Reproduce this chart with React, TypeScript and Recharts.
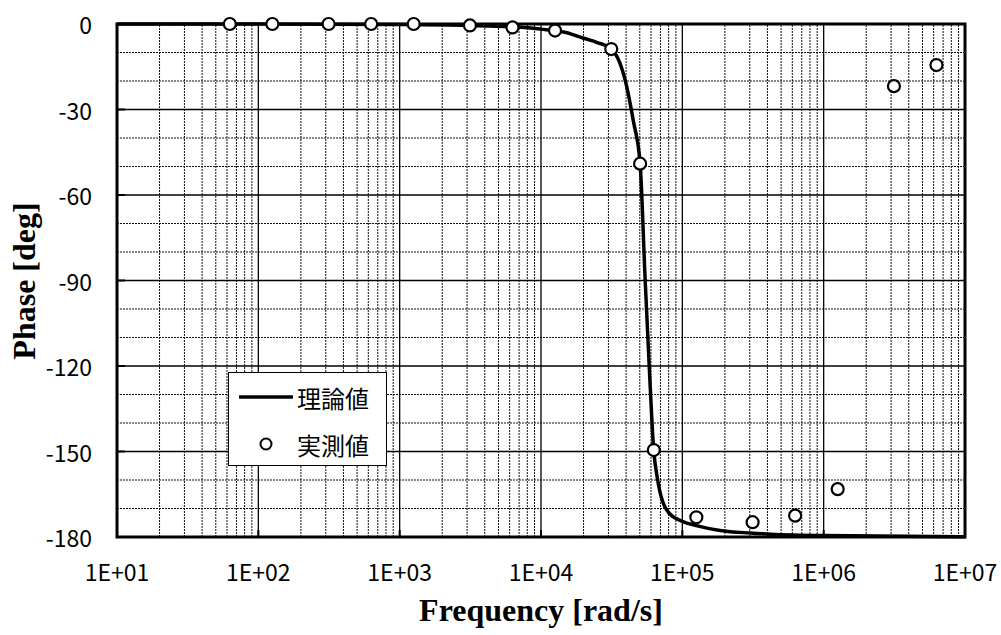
import React from 'react';
import {
  ComposedChart,
  Line,
  Scatter,
  XAxis,
  YAxis,
  ReferenceLine,
  ReferenceArea,
  Legend,
} from 'recharts';

// theoretical curve
const theoryFreq = [
  10, 100, 1000, 3000, 6283, 10000, 15000, 20000, 25000, 31416, 36000, 40000,
  45000, 50265, 54600, 58300, 62832, 66400, 69700, 73100, 82000, 100000,
  125664, 185000, 300000, 420000, 1000000, 10000000,
];
const theoryPhase = [
  0, -0.02, -0.2, -0.5, -1.0, -1.8, -3.0, -5.0, -6.5, -8.8, -13.5, -21, -34,
  -49, -90, -120, -150, -159, -164.5, -168, -172, -174.5, -176, -177.7,
  -178.6, -179, -179.5, -179.9,
];

// measured points
const measFreq = [
  62.8, 125.7, 314.2, 628.3, 1256.6, 3141.6, 6283.2, 12566, 31416, 50265,
  62832, 125664, 314159, 628319, 1256637, 3141593, 6283185,
];
const measPhase = [
  0, 0, 0, 0, 0, -0.5, -1.2, -2.3, -8.8, -49, -149.5, -173.1, -174.8, -172.5,
  -163.2, -21.8, -14.4,
];

const seriesNames = ['理論値', '実測値'];

const xTicks = [10, 100, 1000, 10000, 100000, 1000000, 10000000];
const yTicks = [-180, -150, -120, -90, -60, -30, 0];
const yMinor = [-170, -160, -140, -130, -110, -100, -80, -70, -50, -40, -20, -10];
const minorSteps = [2, 3, 4, 5, 6, 7, 8, 9];

const xMinor = xTicks.slice(0, -1).flatMap((d) => minorSteps.map((m) => d * m));
const xMajorInner = xTicks.slice(1, -1);
const yMajorInner = yTicks.slice(1, -1);

const theoryData = theoryFreq.map((f, i) => ({ f, phase: theoryPhase[i] }));
const measData = measFreq.map((f, i) => ({ f, phase: measPhase[i] }));

const tickFont = '"Noto Sans CJK JP", "Noto Sans", sans-serif';
const titleFont = '"Liberation Serif", "Times New Roman", serif';

function fmtExp(v: number) {
  const e = Math.round(Math.log10(v));
  return `1E+${String(e).padStart(2, '0')}`;
}

function XTick(props: any) {
  const { x, y, payload } = props;
  return (
    <g>
      <line x1={x} x2={x} y1={y} y2={y - 7} stroke="#000" strokeWidth={2} />
      <text
        x={x}
        y={y + 44}
        textAnchor="middle"
        fontSize={23}
        fontFamily={tickFont}
        fill="#000"
      >
        {fmtExp(payload.value)}
      </text>
    </g>
  );
}

function YTick(props: any) {
  const { x, y, payload } = props;
  return (
    <g>
      <line x1={x} x2={x + 8} y1={y} y2={y} stroke="#000" strokeWidth={2} />
      <text
        x={x - 25}
        y={y}
        textAnchor="end"
        dominantBaseline="central"
        fontSize={23}
        fontFamily={tickFont}
        fill="#000"
      >
        {payload.value}
      </text>
    </g>
  );
}

function Circle(props: any) {
  const { cx, cy } = props;
  if (cx == null || cy == null) return null;
  return <circle cx={cx} cy={cy} r={6} fill="#fff" stroke="#000" strokeWidth={2.2} />;
}

function LegendBox() {
  return (
    <div
      style={{
        width: 159,
        height: 94,
        boxSizing: 'border-box',
        border: '1.5px solid #000',
        background: '#fff',
      }}
    >
      <svg width={156} height={91} style={{ display: 'block' }}>
        <line x1={10} x2={64} y1={24} y2={24} stroke="#000" strokeWidth={3.5} />
        <text x={68} y={24} dominantBaseline="central" fontSize={24} fontFamily={tickFont}>
          {seriesNames[0]}
        </text>
        <circle cx={37} cy={71} r={5.5} fill="#fff" stroke="#000" strokeWidth={2} />
        <text x={68} y={71} dominantBaseline="central" fontSize={24} fontFamily={tickFont}>
          {seriesNames[1]}
        </text>
      </svg>
    </div>
  );
}

const xTitle = () => (
  <text
    x={541}
    y={621}
    textAnchor="middle"
    fontSize={32}
    fontWeight="bold"
    fontFamily={titleFont}
    fill="#000"
  >
    Frequency [rad/s]
  </text>
);

const yTitle = () => (
  <text
    x={35}
    y={281}
    transform="rotate(-90 35 281)"
    textAnchor="middle"
    fontSize={32}
    fontWeight="bold"
    fontFamily={titleFont}
    fill="#000"
  >
    Phase [deg]
  </text>
);

export default function App() {
  return (
    <div style={{ position: 'absolute', left: 0, top: 0, width: 1001, height: 635, background: '#fff' }}>
      <ComposedChart
        width={1001}
        height={635}
        margin={{ top: 24, right: 36, bottom: 0, left: 0 }}
      >
        <XAxis
          dataKey="f"
          type="number"
          scale="log"
          domain={[10, 10000000]}
          ticks={xTicks}
          allowDataOverflow
          height={98}
          axisLine={false}
          tickLine={false}
          tickSize={0}
          tickMargin={0}
          tick={<XTick />}
          interval={0}
          label={xTitle}
        />
        <YAxis
          type="number"
          domain={[-180, 0]}
          ticks={yTicks}
          width={117}
          axisLine={false}
          tickLine={false}
          tickSize={0}
          tickMargin={0}
          tick={<YTick />}
          interval={0}
          label={yTitle}
        />
        {xMinor.map((v) => (
          <ReferenceLine key={`xm${v}`} x={v} stroke="#111" strokeWidth={1} strokeDasharray="2 1" />
        ))}
        {yMinor.map((v) => (
          <ReferenceLine key={`ym${v}`} y={v} stroke="#111" strokeWidth={1} strokeDasharray="2 1" />
        ))}
        {xMajorInner.map((v) => (
          <ReferenceLine key={`xM${v}`} x={v} stroke="#000" strokeWidth={1.3} />
        ))}
        {yMajorInner.map((v) => (
          <ReferenceLine key={`yM${v}`} y={v} stroke="#000" strokeWidth={1.3} />
        ))}
        <ReferenceArea
          x1={10}
          x2={10000000}
          y1={-180}
          y2={0}
          fill="none"
          stroke="#000"
          strokeWidth={3}
          fillOpacity={0}
        />
        <Legend
          layout="vertical"
          align="center"
          verticalAlign="middle"
          content={<LegendBox />}
          wrapperStyle={{ left: 228, top: 372, width: 159, height: 94 }}
        />
        <Line
          data={theoryData}
          dataKey="phase"
          name={seriesNames[0]}
          type="monotone"
          stroke="#000"
          strokeWidth={3.5}
          dot={false}
          isAnimationActive={false}
        />
        <Scatter
          data={measData}
          dataKey="phase"
          name={seriesNames[1]}
          shape={<Circle />}
          isAnimationActive={false}
        />
      </ComposedChart>
    </div>
  );
}
